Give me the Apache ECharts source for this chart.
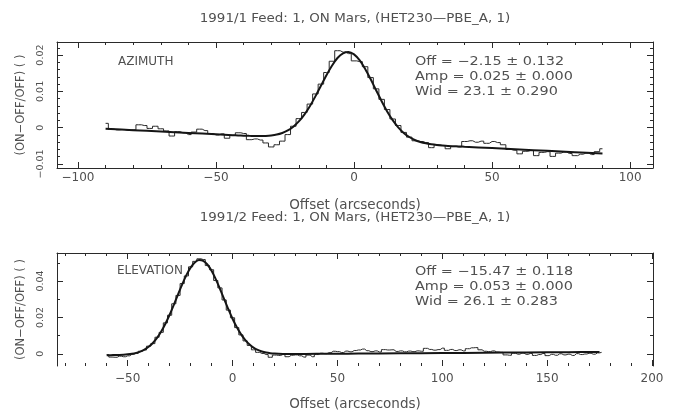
<!DOCTYPE html>
<html><head><meta charset="utf-8">
<script src="https://cdn.jsdelivr.net/npm/echarts@6/dist/echarts.min.js"></script>
<style>html,body{margin:0;padding:0;background:#fff}#c{width:678px;height:412px}</style>
</head><body><div id="c"></div>
<script>
// ---------- texts ----------
const azTitle = '1991/1 Feed: 1, ON Mars, (HET230\u2014PBE_A, 1)';
const elTitle = '1991/2 Feed: 1, ON Mars, (HET230\u2014PBE_A, 1)';
const xName = 'Offset (arcseconds)';
const yName = '(ON\u2212OFF/OFF) ( )';
const azLabel = 'AZIMUTH';
const elLabel = 'ELEVATION';
const azFitText = ['Off = \u22122.15 \u00b1 0.132', 'Amp = 0.025 \u00b1 0.000', 'Wid = 23.1 \u00b1 0.290'];
const elFitText = ['Off = \u221215.47 \u00b1 0.118', 'Amp = 0.053 \u00b1 0.000', 'Wid = 26.1 \u00b1 0.283'];

// ---------- ticks ----------
const azXMajor = [-100, -50, 0, 50, 100];
const azXMinor = [-100,-90,-80,-70,-60,-50,-40,-30,-20,-10,0,10,20,30,40,50,60,70,80,90,100];
const azYMajor = [-0.01, 0, 0.01, 0.02];
const azYMinor = [-0.01,-0.008,-0.006,-0.004,-0.002,0,0.002,0.004,0.006,0.008,0.01,0.012,0.014,0.016,0.018,0.02,0.022];
const elXMajor = [-50, 0, 50, 100, 150, 200];
const elXMinor = [-80,-70,-60,-50,-40,-30,-20,-10,0,10,20,30,40,50,60,70,80,90,100,110,120,130,140,150,160,170,180,190,200];
const elYMajor = [0, 0.02, 0.04];
const elYMinor = [0, 0.01, 0.02, 0.03, 0.04, 0.05];

// ---------- azimuth scan ----------
const azX = [-90,-88,-86,-84,-82,-80,-78,-76,-74,-72,
  -70,-68,-66,-64,-62,-60,-58,-56,-54,-52,
  -50,-48,-46,-44,-42,-40,-38,-36,-34,-32,
  -30,-28,-26,-24,-22,-20,-18,-16,-14,-12,
  -10,-8,-6,-4,-2,0,2,4,6,8,
  10,12,14,16,18,20,22,24,26,28,
  30,32,34,36,38,40,42,44,46,48,
  50,52,54,56,58,60,62,64,66,68,
  70,72,74,76,78,80,82,84,86,88,
  90];
const azData = [0.0012,-0.0004,-0.0006,-0.0005,-0.0007,-0.0006,0.0008,0.0006,-0.0002,0.0004,
  -0.0003,-0.0009,-0.0023,-0.0011,-0.0014,-0.0019,-0.0012,-0.0004,-0.0008,-0.0016,
  -0.0020,-0.0017,-0.0029,-0.0021,-0.0014,-0.0016,-0.0033,-0.0031,-0.0034,-0.0042,
  -0.0053,-0.0047,-0.0037,-0.0019,0.0004,0.0025,0.0042,0.0065,0.0093,0.0120,
  0.0152,0.0183,0.0212,0.0208,0.0204,0.0184,0.0182,0.0168,0.0138,0.0107,
  0.0078,0.0050,0.0024,0.0006,-0.0013,-0.0026,-0.0036,-0.0038,-0.0041,-0.0055,
  -0.0047,-0.0049,-0.0058,-0.0052,-0.0053,-0.0038,-0.0036,-0.0040,-0.0037,-0.0043,
  -0.0038,-0.0041,-0.0047,-0.0060,-0.0062,-0.0072,-0.0065,-0.0063,-0.0077,-0.0068,
  -0.0066,-0.0079,-0.0070,-0.0067,-0.0071,-0.0077,-0.0073,-0.0070,-0.0074,-0.0066,
  -0.0058];
const azFitX = [-90,-80,-70,-60,-50,-44,-42,-40,-38,-36,-34,-32,-30,-28,-26,-24,-22,-20,-18,-16,-14,-12,
  -10,-8,-6,-4,-2,0,2,4,6,8,10,12,14,16,18,20,22,24,26,28,30,32,34,36,38,40,50,60,70,80,90];
const azFit = [-0.0003,-0.00068,-0.00106,-0.00144,-0.00182,-0.00205,-0.00212,-0.00219,-0.00225,-0.00229,-0.0023,-0.00226,
  -0.00214,-0.0019,-0.00145,-0.00076,0.00028,0.00172,0.0036,0.00593,0.00862,0.01154,
  0.01445,0.01708,0.0192,0.02049,0.02086,0.0202,0.0186,0.01626,0.0134,0.01033,
  0.00728,0.00448,0.00207,0.0001,-0.00143,-0.00256,-0.00338,-0.00393,-0.00431,-0.00456,
  -0.00475,-0.00489,-0.00501,-0.00509,-0.00516,-0.00524,-0.00562,-0.006,-0.00638,-0.00676,-0.00714];

// ---------- elevation scan ----------
const elX = [-60,-58,-56,-54,-52,-50,-48,-46,-44,-42,
  -40,-38,-36,-34,-32,-30,-28,-26,-24,-22,
  -20,-18,-16,-14,-12,-10,-8,-6,-4,-2,
  0,2,4,6,8,10,12,14,16,18,
  20,22,24,26,28,30,32,34,36,38,
  40,42,44,46,48,50,52,54,56,58,
  60,62,64,66,68,70,72,74,76,78,
  80,82,84,86,88,90,92,94,96,98,
  100,102,104,106,108,110,112,114,116,118,
  120,122,124,126,128,130,132,134,136,138,
  140,142,144,146,148,150,152,154,156,158,
  160,162,164,166,168,170,172,174,176];
const elData = [-0.0005,-0.0018,-0.0019,-0.0013,-0.0016,-0.0011,-0.0003,0.0002,0.0014,0.0021,
  0.0042,0.0056,0.0091,0.0118,0.0170,0.0212,0.0275,0.0321,0.0386,0.0428,
  0.0478,0.0508,0.0522,0.0518,0.0485,0.0462,0.0403,0.0362,0.0296,0.0240,
  0.0198,0.0144,0.0104,0.0071,0.0046,0.0022,0.0008,0.0002,-0.0004,-0.0019,
  -0.0007,-0.0009,-0.0004,-0.0016,-0.0008,-0.0006,-0.0011,-0.0018,-0.0007,-0.0016,
  -0.0004,0.0003,0.0001,0.0006,0.0014,0.0012,0.0007,0.0015,0.0011,0.0018,
  0.0021,0.0026,0.0017,0.0012,0.0016,0.0010,0.0023,0.0021,0.0022,0.0013,
  0.0016,0.0011,0.0015,0.0012,0.0016,0.0014,0.0030,0.0024,0.0020,0.0023,
  0.0031,0.0019,0.0024,0.0018,0.0022,0.0016,0.0028,0.0033,0.0034,0.0022,
  0.0014,0.0012,0.0016,0.0010,0.0008,-0.0006,-0.0008,0.0003,-0.0002,0.0004,
  -0.0003,0.0002,-0.0009,-0.0004,0.0002,-0.0010,-0.0003,-0.0008,0.0000,-0.0006,
  -0.0002,-0.0009,0.0001,-0.0004,-0.0001,0.0003,-0.0002,0.0005,0.0008];
const elFitX = [-60,-58,-56,-54,-52,-50,-48,-46,-44,-42,-40,-38,-36,-34,-32,-30,-28,-26,-24,-22,
  -20,-18,-16,-14,-12,-10,-8,-6,-4,-2,0,2,4,6,8,10,12,14,16,18,20,22,24,26,
  30,40,50,60,80,100,120,140,160,175];
const elFit = [-0.00078,-0.00074,-0.00069,-0.00061,-0.00049,-0.00029,0.00001,0.0005,0.00123,0.00232,
  0.00385,0.00597,0.00874,0.01227,0.01652,0.02145,0.0269,0.03259,0.03815,0.04322,
  0.04735,0.0502,0.05149,0.05111,0.04909,0.04564,0.04104,0.03572,0.03007,0.0245,
  0.01928,0.01468,0.0108,0.00767,0.00524,0.00344,0.00216,0.00128,0.0007,0.00034,
  0.00012,0,-0.00007,-0.0001,
  -0.00011,-0.00003,0.00005,0.00012,0.00028,0.00043,0.00059,0.00074,0.0009,0.00101];

// ---------- helpers ----------
const FONT = 'DejaVu Sans';
const LINE = '#2a2a2a';
const TXT = '#505050';
const pairs = (xs, ys) => xs.map((x, i) => [x, ys[i]]);
const fmt = v => String(+v.toFixed(4)).replace('-', '\u2212');

function xAxes(grid, min, max, major, minor, showBottomLine, nameGap, labelMargin) {
  const base = {type: 'value', gridIndex: grid, min: min, max: max, splitLine: {show: false}, scale: true};
  return [
    Object.assign({}, base, {position: 'bottom',
      axisLine: {show: showBottomLine, onZero: false, lineStyle: {color: LINE, width: 1}},
      axisTick: {show: true, inside: true, length: 6, customValues: major, lineStyle: {color: LINE}},
      axisLabel: {show: true, customValues: major, formatter: fmt, margin: labelMargin, color: TXT, fontFamily: FONT, fontSize: 12},
      name: xName, nameLocation: 'middle', nameGap: nameGap,
      nameTextStyle: {color: TXT, fontFamily: FONT, fontSize: 13.5}}),
    Object.assign({}, base, {position: 'bottom',
      axisLine: {show: false, onZero: false},
      axisTick: {show: true, inside: true, length: 3, customValues: minor, lineStyle: {color: LINE}},
      axisLabel: {show: false}}),
    Object.assign({}, base, {position: 'top',
      axisLine: {show: true, onZero: false, lineStyle: {color: LINE, width: 1}},
      axisTick: {show: true, inside: true, length: 6, customValues: major, lineStyle: {color: LINE}},
      axisLabel: {show: false}}),
    Object.assign({}, base, {position: 'top',
      axisLine: {show: false, onZero: false},
      axisTick: {show: true, inside: true, length: 3, customValues: minor, lineStyle: {color: LINE}},
      axisLabel: {show: false}})
  ];
}
function yAxes(grid, min, max, major, minor) {
  const base = {type: 'value', gridIndex: grid, min: min, max: max, splitLine: {show: false}, scale: true};
  return [
    Object.assign({}, base, {position: 'left',
      axisLine: {show: true, onZero: false, lineStyle: {color: LINE, width: 1}},
      axisTick: {show: true, inside: true, length: 6, customValues: major, lineStyle: {color: LINE}},
      axisLabel: {show: true, customValues: major, formatter: fmt, rotate: 90, margin: 11, color: TXT, fontFamily: FONT, fontSize: 9.5},
      name: yName, nameLocation: 'middle', nameGap: 30,
      nameTextStyle: {color: TXT, fontFamily: FONT, fontSize: 11.5}}),
    Object.assign({}, base, {position: 'left',
      axisLine: {show: false, onZero: false},
      axisTick: {show: true, inside: true, length: 3, customValues: minor, lineStyle: {color: LINE}},
      axisLabel: {show: false}}),
    Object.assign({}, base, {position: 'right',
      axisLine: {show: true, onZero: false, lineStyle: {color: LINE, width: 1}},
      axisTick: {show: true, inside: true, length: 6, customValues: major, lineStyle: {color: LINE}},
      axisLabel: {show: false}}),
    Object.assign({}, base, {position: 'right',
      axisLine: {show: false, onZero: false},
      axisTick: {show: true, inside: true, length: 3, customValues: minor, lineStyle: {color: LINE}},
      axisLabel: {show: false}})
  ];
}
function txt(text, x, y, align, sx) {
  return {type: 'text', x: x, y: y, scaleX: sx, silent: true,
    style: {text: text, font: '12px "' + FONT + '"', fill: TXT,
      align: align, textAlign: align, verticalAlign: 'middle', textVerticalAlign: 'middle'}};
}

const chart = echarts.init(document.getElementById('c'), null, {renderer: 'canvas'});
chart.setOption({
  animation: false,
  backgroundColor: '#ffffff',
  grid: [
    {left: 57, right: 25, top: 42, height: 126},
    {left: 57, right: 25, top: 253, height: 121}
  ],
  xAxis: [].concat(
    xAxes(0, -107.6, 108.3, azXMajor, azXMinor, true, 30, 4),
    xAxes(1, -83.7, 200.5, elXMajor, elXMinor, false, 31, 7)
  ),
  yAxis: [].concat(
    yAxes(0, -0.0111, 0.0236, azYMajor, azYMinor),
    yAxes(1, -0.0067, 0.0554, elYMajor, elYMinor)
  ),
  series: [
    {type: 'line', xAxisIndex: 0, yAxisIndex: 0, data: pairs(azX, azData), step: 'middle',
      showSymbol: false, silent: true, lineStyle: {color: LINE, width: 1}},
    {type: 'line', xAxisIndex: 0, yAxisIndex: 0, data: pairs(azFitX, azFit), smooth: 0.3,
      showSymbol: false, silent: true, lineStyle: {color: '#151515', width: 2}},
    {type: 'line', xAxisIndex: 4, yAxisIndex: 4, data: pairs(elX, elData), step: 'middle',
      showSymbol: false, silent: true, lineStyle: {color: LINE, width: 1}},
    {type: 'line', xAxisIndex: 4, yAxisIndex: 4, data: pairs(elFitX, elFit), smooth: 0.3,
      showSymbol: false, silent: true, lineStyle: {color: '#151515', width: 2}}
  ],
  graphic: [
    txt(azTitle, 355, 19, 'center', 1.12),
    txt(elTitle, 355, 218, 'center', 1.12),
    txt(azLabel, 118, 62, 'left', 1),
    txt(elLabel, 117, 271, 'left', 1),
    txt(azFitText[0], 415, 62, 'left', 1.2),
    txt(azFitText[1], 415, 77, 'left', 1.2),
    txt(azFitText[2], 415, 92, 'left', 1.2),
    txt(elFitText[0], 415, 272, 'left', 1.2),
    txt(elFitText[1], 415, 287, 'left', 1.2),
    txt(elFitText[2], 415, 302, 'left', 1.2)
  ]
});
</script>
</body></html>
